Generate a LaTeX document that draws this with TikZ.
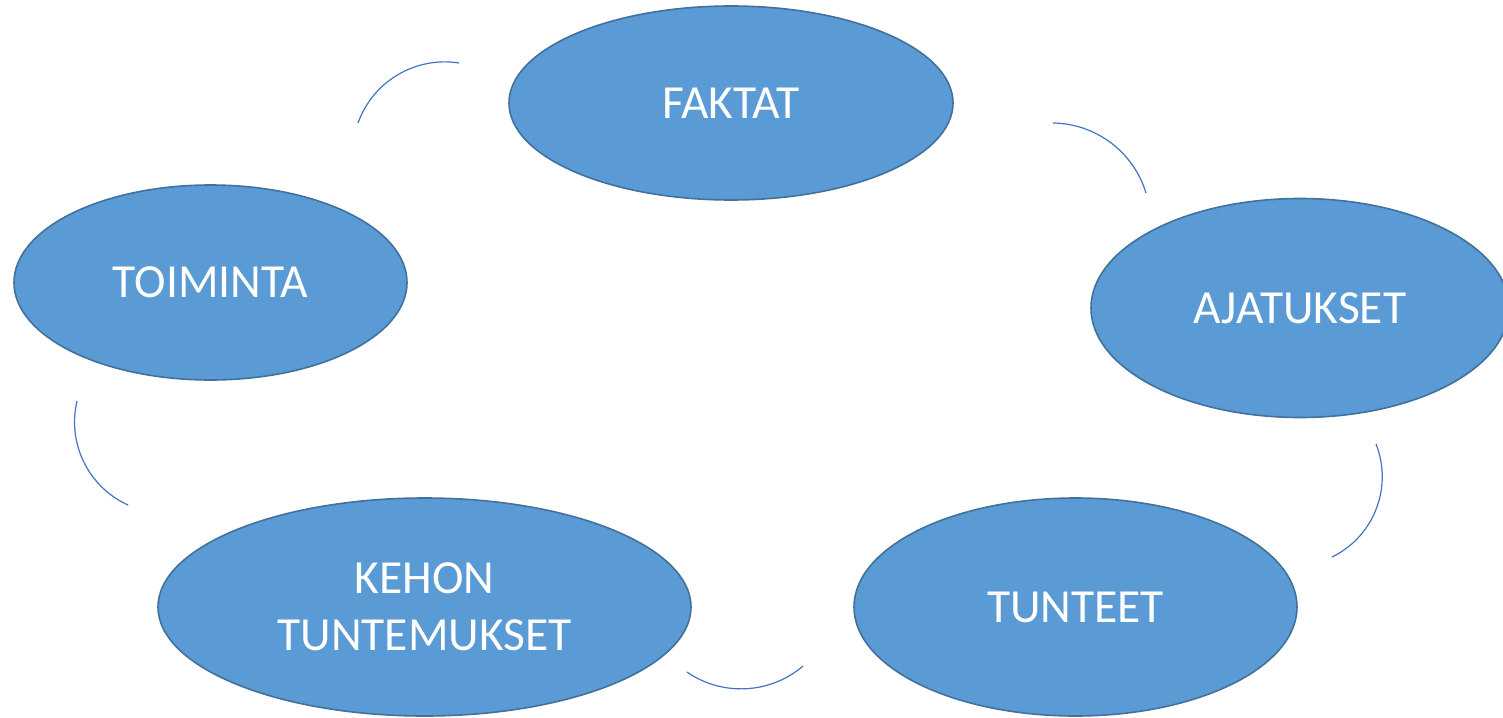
\documentclass[tikz,border=0pt]{standalone}
\usepackage{fontspec}
\setmainfont{Carlito}
\usetikzlibrary{shapes.geometric}
\definecolor{bubblefill}{HTML}{5B9BD5}
\definecolor{bubbleline}{HTML}{41719C}
\definecolor{linkblue}{HTML}{4472C4}
\tikzset{
  bubble/.style={ellipse, draw=bubbleline, line width=1.6pt, fill=bubblefill,
    text=white, inner sep=0pt, align=center,
    font=\fontsize{47.5}{57}\selectfont},
  link/.style={draw=linkblue, line width=1.2pt}
}
\begin{document}
\begin{tikzpicture}[x=1pt,y=1pt]
  \useasboundingbox (0,0) rectangle (1503,-717);

  % the five stages
  \node[bubble, minimum width=444pt, minimum height=194pt] (faktat) at (731,-103) {FAKTAT};
  \node[bubble, minimum width=418pt, minimum height=219pt] (ajatukset) at (1300,-308) {AJATUKSET};
  \node[bubble, minimum width=443pt, minimum height=218pt] (tunteet) at (1075.5,-607) {TUNTEET};
  \node[bubble, minimum width=533pt, minimum height=218pt] (kehon) at (424.5,-607) {KEHON\\TUNTEMUKSET};
  \node[bubble, minimum width=393pt, minimum height=195pt] (toiminta) at (210.5,-282.5) {TOIMINTA};

  % arc pieces between the stages
  \coordinate (l1) at (358,-123);
  \coordinate (l2) at (1053,-123);
  \coordinate (l3) at (1376,-444);
  \coordinate (l4) at (803,-666);
  \coordinate (l5) at (77,-401);
  \draw[link] (l1) arc[start angle=160.3, end angle=81.1, radius=92.2];
  \draw[link] (l2) arc[start angle=89.2, end angle=16.9, radius=98.6];
  \draw[link] (l3) arc[start angle=21.5, end angle=-64.0, radius=89.3];
  \draw[link] (l4) arc[start angle=-49.5, end angle=-124.6, radius=95.4];
  \draw[link] (l5) arc[start angle=166.7, end angle=245.6, radius=91.2];
\end{tikzpicture}
\end{document}
